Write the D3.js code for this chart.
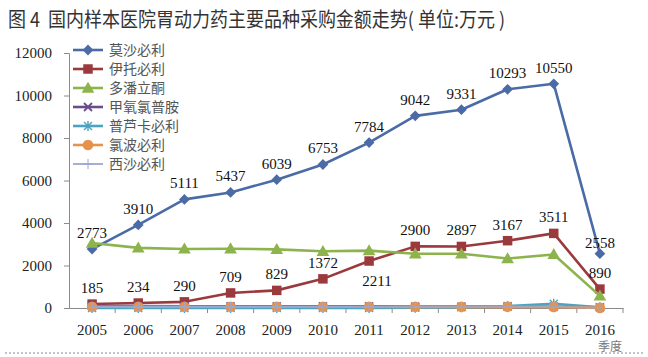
<!DOCTYPE html>
<html><head><meta charset="utf-8">
<script src="https://cdn.jsdelivr.net/npm/d3@7"></script>
<style>body{margin:0;background:#fff}svg{display:block}</style>
</head><body>
<svg id="c" width="648" height="357"></svg>
<script>
const title = "图 4  国内样本医院胃动力药主要品种采购金额走势( 单位:万元 )";
const years = ["2005","2006","2007","2008","2009","2010","2011","2012","2013","2014","2015","2016"];
const yTicks = [0,2000,4000,6000,8000,10000,12000];
const seriesNames = ["莫沙必利","伊托必利","多潘立酮","甲氧氯普胺","普芦卡必利","氯波必利","西沙必利"];
const mosapride  = [2773,3910,5111,5437,6039,6753,7784,9042,9331,10293,10550,2558];
const itopride   = [185,234,290,709,829,1372,2211,2900,2897,3167,3511,890];
const domperidone= [3060,2830,2780,2790,2760,2670,2700,2550,2550,2330,2520,570];
const metoclopramide = [90,90,85,80,80,75,75,70,70,65,60,30];
const prucalopride   = [0,0,0,0,0,0,0,10,30,90,200,30];
const clebopride     = [60,60,60,60,60,60,60,55,55,55,50,5];
const cisapride      = [50,50,50,50,50,50,50,45,45,45,40,20];
const axisTitle = "季度";

const allValues = [mosapride,itopride,domperidone,metoclopramide,prucalopride,clebopride,cisapride];
const colors = ["#4b6ba6","#9b3a3d","#8db34c","#6a4e8c","#4aa4c0","#e5934c","#9ea6cf"];
const markers = ["diamond","square","triangle","x","star","circle","plus"];
const labeled = [true,true,false,false,false,false,false];

const svg = d3.select("#c");
svg.append("rect").attr("width",648).attr("height",357).attr("fill","#fff");

svg.append("text").attr("x",8).attr("y",27)
  .attr("font-family","'Noto Sans CJK SC'").attr("font-size",20).attr("fill","#333")
  .style("white-space","pre")
  .attr("textLength",497).attr("lengthAdjust","spacingAndGlyphs")
  .text(title);

const x = d3.scaleBand().domain(years).range([69,623]).padding(0);
const cx = d => x(d) + x.bandwidth()/2;
const y = d3.scaleLinear().domain([0,12000]).range([308,53]);

const serif = "'Liberation Serif','Times New Roman',serif";
const axisColor = "#8a8a8a";

// y axis
const ya = svg.append("g").attr("transform","translate(69,0)")
  .call(d3.axisLeft(y).tickValues(yTicks).tickSize(5).tickPadding(12).tickFormat(d3.format("d")));
ya.select(".domain").attr("stroke",axisColor);
ya.selectAll(".tick line").attr("stroke",axisColor);
ya.selectAll("text").attr("font-family",serif).attr("font-size",15).attr("fill","#222");

// x axis
const xa = svg.append("g").attr("transform","translate(0,308)")
  .call(d3.axisBottom(x).tickSize(0).tickPadding(16));
xa.select(".domain").attr("stroke",axisColor);
xa.selectAll("text").attr("font-family",serif).attr("font-size",15).attr("fill","#222");
const bounds = years.map(d=>x(d)).concat([x.range()[1]]).slice(1);
svg.append("g").selectAll("line").data(bounds).join("line")
  .attr("x1",d=>d).attr("x2",d=>d).attr("y1",308).attr("y2",313)
  .attr("stroke",axisColor);

svg.append("text").attr("x",610).attr("y",351).attr("text-anchor","middle")
  .attr("font-family","'Noto Sans CJK SC'").attr("font-size",12).attr("fill","#777")
  .text(axisTitle);

// dotted separator
svg.append("line").attr("x1",5).attr("x2",645).attr("y1",353).attr("y2",353)
  .attr("stroke","#888").attr("stroke-dasharray","2,2").attr("stroke-width",1);

function drawMarker(g, type, color, px, py){
  if(type==="diamond"){
    g.append("path").attr("d",d3.symbol(d3.symbolSquare, 58)()).attr("transform",`translate(${px},${py}) rotate(45)`).attr("fill",color);
  } else if(type==="square"){
    g.append("path").attr("d",d3.symbol(d3.symbolSquare, 90)()).attr("transform",`translate(${px},${py})`).attr("fill",color);
  } else if(type==="triangle"){
    g.append("path").attr("d",d3.symbol(d3.symbolTriangle, 70)()).attr("transform",`translate(${px},${py+1})`).attr("fill",color);
  } else if(type==="circle"){
    g.append("circle").attr("cx",px).attr("cy",py).attr("r",5.3).attr("fill",color);
  } else if(type==="x"){
    g.append("path").attr("d",`M${px-4},${py-4}L${px+4},${py+4}M${px-4},${py+4}L${px+4},${py-4}`).attr("stroke",color).attr("stroke-width",1.8);
  } else if(type==="star"){
    g.append("path").attr("d",`M${px-4},${py-4}L${px+4},${py+4}M${px-4},${py+4}L${px+4},${py-4}M${px},${py-5}L${px},${py+5}`).attr("stroke",color).attr("stroke-width",1.4);
  } else if(type==="plus"){
    g.append("path").attr("d",`M${px-5},${py}L${px+5},${py}M${px},${py-5}L${px},${py+5}`).attr("stroke",color).attr("stroke-width",1);
  }
}

const line = d3.line().x((d,i)=>cx(years[i])).y(d=>y(d));
allValues.forEach((vals,si)=>{
  const g = svg.append("g");
  g.append("path").datum(vals).attr("d",line).attr("fill","none")
    .attr("stroke",colors[si]).attr("stroke-width", si===6?1.8:2.6).attr("stroke-linejoin","round");
  vals.forEach((v,i)=>drawMarker(g, markers[si], colors[si], cx(years[i]), y(v)));
});

// data labels
const lab = svg.append("g").attr("font-family",serif).attr("font-size",15).attr("fill","#111").attr("text-anchor","middle");
allValues.forEach((vals,si)=>{
  if(!labeled[si]) return;
  vals.forEach((v,i)=>{
    let px = cx(years[i]), py = y(v) - 11;
    if(si===1 && i===6){ px += 8; py = y(v) + 25; }
    if(si===0 && i===11){ py = y(v) - 6; }
    lab.append("text").attr("x",px).attr("y",py).text(v);
  });
});

// legend
const leg = svg.append("g");
seriesNames.forEach((n,i)=>{
  const ly = 50 + i*19;
  leg.append("line").attr("x1",73).attr("x2",103).attr("y1",ly).attr("y2",ly)
    .attr("stroke",colors[i]).attr("stroke-width",i===6?1.8:2.6);
  drawMarker(leg, markers[i], colors[i], 88, ly);
  leg.append("text").attr("x",109).attr("y",ly+5)
    .attr("font-family","'Noto Sans CJK SC'").attr("font-size",14).attr("fill","#555").text(n);
});
</script>
</body></html>
